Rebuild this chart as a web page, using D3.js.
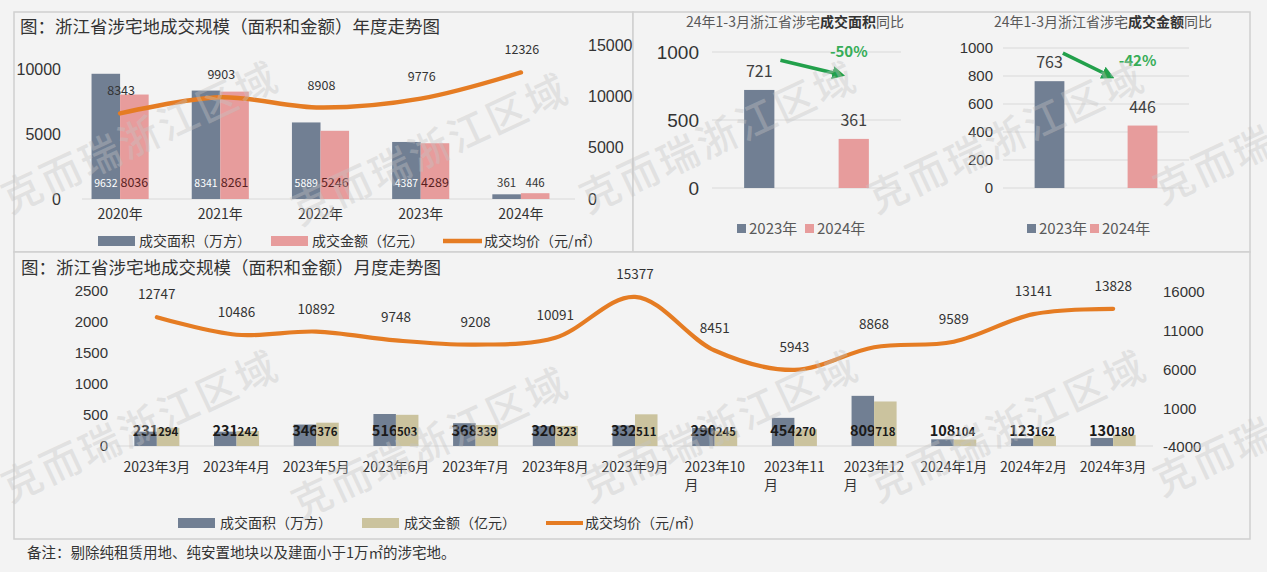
<!DOCTYPE html>
<html><head><meta charset="utf-8">
<script src="https://cdn.jsdelivr.net/npm/d3@7"></script>
<style>
body{margin:0;background:#f3f3f3;}
svg{display:block;font-family:"Noto Sans CJK SC","Noto Sans",sans-serif;}
</style>
</head><body>
<svg id="c" width="1267" height="572"></svg>
<script>
// ---------------- DATA ----------------
const years = ["2020年","2021年","2022年","2023年","2024年"];
const yearArea = [9632, 8341, 5889, 4387, 361];      // 成交面积（万方）
const yearAmount = [8036, 8261, 5246, 4289, 446];    // 成交金额（亿元）
const yearPrice = [8343, 9903, 8908, 9776, 12326];   // 成交均价（元/㎡）
const yearLeftTicks = [0, 5000, 10000];
const yearRightTicks = [0, 5000, 10000, 15000];

const q1Periods = ["2023年","2024年"];
const q1Area = [721, 361];
const q1Amount = [763, 446];
const q1AreaTicks = [0, 500, 1000];
const q1AmountTicks = [0, 200, 400, 600, 800, 1000];

const months = ["2023年3月","2023年4月","2023年5月","2023年6月","2023年7月","2023年8月","2023年9月",
  "2023年10月","2023年11月","2023年12月","2024年1月","2024年2月","2024年3月"];
const monthArea = [231, 231, 346, 516, 368, 320, 332, 290, 454, 809, 108, 123, 130];
const monthAmount = [294, 242, 376, 503, 339, 323, 511, 245, 270, 718, 104, 162, 180];
const monthPrice = [12747, 10486, 10892, 9748, 9208, 10091, 15377, 8451, 5943, 8868, 9589, 13141, 13828];
const monthLeftTicks = [0, 500, 1000, 1500, 2000, 2500];
const monthRightTicks = [-4000, 1000, 6000, 11000, 16000];

const legendYear = ["成交面积（万方）","成交金额（亿元）","成交均价（元/㎡）"];
const legendMonth = ["成交面积（万方）","成交金额（亿元）","成交均价（元/㎡）"];
const titleYear = "图：浙江省涉宅地成交规模（面积和金额）年度走势图";
const titleMonth = "图：浙江省涉宅地成交规模（面积和金额）月度走势图";
const note = "备注：剔除纯租赁用地、纯安置地块以及建面小于1万㎡的涉宅地。";
const watermark = "克而瑞浙江区域";

// ---------------- STYLE ----------------
const C = {
  bg: "#f3f3f3", border: "#cfcfcf", grid: "#d9d9d9", text: "#333333", sub: "#595959",
  slate: "#717f93", pink: "#e79c9c", beige: "#cbc39e", orange: "#e57c23", green: "#22a04b"
};
const NUM = '"Liberation Sans Narrow","Noto Sans CJK SC",sans-serif';
const fmt = d3.format("d");

const svg = d3.select("#c");
svg.append("rect").attr("width",1267).attr("height",572).attr("fill",C.bg);

// panels
const panels = [[14,12,619,240],[633,12,617,240],[14,252,1236,287]];
svg.selectAll("rect.panel").data(panels).join("rect").attr("class","panel")
  .attr("x",d=>d[0]).attr("y",d=>d[1]).attr("width",d=>d[2]).attr("height",d=>d[3])
  .attr("fill",C.bg).attr("stroke",C.border).attr("stroke-width",1.5);

svg.append("defs").append("marker").attr("id","arr").attr("viewBox","0 0 10 10")
  .attr("refX",6).attr("refY",5).attr("markerWidth",3.6).attr("markerHeight",3.6).attr("orient","auto")
  .append("path").attr("d","M0,0L10,5L0,10z").attr("fill",C.green);

function styleAxis(g, size){
  g.select(".domain").remove();
  g.selectAll("text").attr("font-size",size).attr("fill",C.text);
}

// ================= TOP-LEFT: yearly =================
{
  const g = svg.append("g");
  g.append("text").attr("x",20).attr("y",33).attr("font-size",17.5).attr("fill",C.text).text(titleYear);
  const x = d3.scaleBand().domain(years).range([70,571]).paddingInner(0.43).paddingOuter(0.215);
  const xs = d3.scaleBand().domain(["area","amount"]).range([0,x.bandwidth()]);
  const yL = d3.scaleLinear().domain([0,10000]).range([199,69]);
  const yR = d3.scaleLinear().domain([0,15000]).range([199,45]);

  g.append("line").attr("x1",82).attr("x2",575).attr("y1",yL(0)).attr("y2",yL(0)).attr("stroke",C.grid).attr("stroke-width",1.2);

  g.append("g").attr("transform","translate(61,0)")
    .call(d3.axisLeft(yL).tickValues(yearLeftTicks).tickSize(0).tickPadding(0).tickFormat(fmt))
    .call(a=>styleAxis(a,16));
  g.append("g").attr("transform","translate(588,0)")
    .call(d3.axisRight(yR).tickValues(yearRightTicks).tickSize(0).tickPadding(0).tickFormat(fmt))
    .call(a=>styleAxis(a,16));

  const rows = years.map((k,i)=>({k, area:yearArea[i], amount:yearAmount[i], price:yearPrice[i]}));
  const lblY = 187;
  rows.forEach(r=>{
    [["area",r.area,C.slate,"#ffffff",10.5],["amount",r.amount,C.pink,"#5a1f1f",12.5]].forEach(([s,v,fill,tc,fs])=>{
      const bx = x(r.k)+xs(s);
      g.append("rect").attr("x",bx).attr("y",yL(v)).attr("width",xs.bandwidth()).attr("height",yL(0)-yL(v)).attr("fill",fill);
      const inside = yL(v) < lblY-14;
      g.append("text").attr("x",bx+xs.bandwidth()/2).attr("y",lblY).attr("text-anchor","middle")
        .attr("font-size",inside?fs:11.5).attr("font-family",NUM).attr("fill",inside?tc:C.text).text(v);
    });
  });
  g.selectAll("text.cat").data(years).join("text").attr("class","cat")
    .attr("x",d=>x(d)+x.bandwidth()/2).attr("y",219).attr("text-anchor","middle")
    .attr("font-size",14).attr("fill",C.text).text(d=>d);

  const line = d3.line().x(d=>x(d.k)+x.bandwidth()/2).y(d=>yR(d.price)).curve(d3.curveCatmullRom.alpha(0.5));
  g.append("path").datum(rows).attr("d",line).attr("fill","none").attr("stroke",C.orange).attr("stroke-width",4.5).attr("stroke-linecap","round");
  g.selectAll("text.pl").data(rows).join("text").attr("class","pl")
    .attr("x",d=>x(d.k)+x.bandwidth()/2+1).attr("y",d=>yR(d.price)-18).attr("text-anchor","middle")
    .attr("font-size",12.5).attr("font-family",NUM).attr("fill",C.text).text(d=>d.price);

  // legend
  const ly = 241;
  g.append("rect").attr("x",98).attr("y",ly-5).attr("width",37).attr("height",10).attr("fill",C.slate);
  g.append("text").attr("x",139).attr("y",ly+5).attr("font-size",14).attr("fill",C.text).text(legendYear[0]);
  g.append("rect").attr("x",271).attr("y",ly-5).attr("width",37).attr("height",10).attr("fill",C.pink);
  g.append("text").attr("x",312).attr("y",ly+5).attr("font-size",14).attr("fill",C.text).text(legendYear[1]);
  g.append("line").attr("x1",443).attr("x2",482).attr("y1",ly).attr("y2",ly).attr("stroke",C.orange).attr("stroke-width",4.5);
  g.append("text").attr("x",484).attr("y",ly+5).attr("font-size",14).attr("fill",C.text).text(legendYear[2]);
}

// ================= TOP-RIGHT: Q1 comparisons =================
function q1Chart(cfg){
  const g = svg.append("g");
  const t = g.append("text").attr("x",cfg.titleX).attr("y",27).attr("text-anchor","middle").attr("font-size",14).attr("fill",C.sub);
  t.append("tspan").text("24年1-3月浙江省涉宅");
  t.append("tspan").attr("font-weight","bold").attr("fill",C.text).text(cfg.bold);
  t.append("tspan").text("同比");
  const x = d3.scaleBand().domain(q1Periods).range(cfg.xr).paddingInner(0.68).paddingOuter(0.34);
  const y = d3.scaleLinear().domain([0,1000]).range([188,cfg.top]);
  g.selectAll("line.gr").data(cfg.ticks).join("line").attr("class","gr")
    .attr("x1",cfg.xr[0]).attr("x2",cfg.xr[1]).attr("y1",d=>y(d)).attr("y2",d=>y(d))
    .attr("stroke",C.grid).attr("stroke-width",1);
  g.append("g").attr("transform",`translate(${cfg.axisX},0)`)
    .call(d3.axisLeft(y).tickValues(cfg.ticks).tickSize(0).tickPadding(0).tickFormat(fmt))
    .call(a=>styleAxis(a,cfg.fs));
  const rows = q1Periods.map((k,i)=>({k,v:cfg.values[i],c:i?C.pink:C.slate}));
  g.selectAll("rect.b").data(rows).join("rect").attr("class","b")
    .attr("x",d=>x(d.k)).attr("y",d=>y(d.v)).attr("width",x.bandwidth()).attr("height",d=>y(0)-y(d.v)).attr("fill",d=>d.c);
  g.selectAll("text.v").data(rows).join("text").attr("class","v")
    .attr("x",d=>x(d.k)+x.bandwidth()/2).attr("y",d=>y(d.v)-13).attr("text-anchor","middle")
    .attr("font-size",16).attr("fill","#404040").text(d=>d.v);
  const chg = (cfg.values[1]-cfg.values[0])/cfg.values[0];
  g.append("text").attr("x",x(q1Periods[1])+x.bandwidth()/2-5).attr("y",y(cfg.pctV)+5).attr("text-anchor","middle")
    .attr("font-size",15).attr("font-weight","bold").attr("fill","#36ad58").text(d3.format(".0%")(chg).replace("−","-"));
  g.append("line")
    .attr("x1",x(q1Periods[0])+x.bandwidth()*cfg.a0).attr("y1",y(cfg.av0))
    .attr("x2",x(q1Periods[1])+x.bandwidth()*cfg.a1).attr("y2",y(cfg.av1))
    .attr("stroke",C.green).attr("stroke-width",3.6).attr("marker-end","url(#arr)");
  // legend
  cfg.legend.forEach((lx,i)=>{
    g.append("rect").attr("x",lx).attr("y",224).attr("width",9).attr("height",9).attr("fill",i?C.pink:C.slate);
    g.append("text").attr("x",lx+12).attr("y",234).attr("font-size",15).attr("fill",C.sub).text(q1Periods[i]);
  });
}
q1Chart({titleX:795,bold:"成交面积",xr:[712,901],top:52,ticks:q1AreaTicks,axisX:699,fs:19,values:q1Area,
  pctV:1000,a0:1.2,av0:940,a1:0.05,av1:835,legend:[737,805]});
q1Chart({titleX:1103,bold:"成交金额",xr:[1003,1189],top:48,ticks:q1AmountTicks,axisX:993,fs:15,values:q1Amount,
  pctV:907,a0:0.95,av0:964,a1:-0.6,av1:800,legend:[1027,1090]});

// ================= BOTTOM: monthly =================
{
  const g = svg.append("g");
  g.append("text").attr("x",21).attr("y",274).attr("font-size",17.5).attr("fill",C.text).text(titleMonth);
  const x = d3.scaleBand().domain(months).range([117,1153]).paddingInner(0.435).paddingOuter(0.2175);
  const xs = d3.scaleBand().domain(["area","amount"]).range([0,x.bandwidth()]);
  const yL = d3.scaleLinear().domain([0,2500]).range([446,291]);
  const yR = d3.scaleLinear().domain([-4000,16000]).range([447,292]);

  g.append("line").attr("x1",117).attr("x2",1153).attr("y1",yL(0)).attr("y2",yL(0)).attr("stroke",C.grid).attr("stroke-width",1.2);
  g.append("g").attr("transform","translate(108,0)")
    .call(d3.axisLeft(yL).tickValues(monthLeftTicks).tickSize(0).tickPadding(0).tickFormat(fmt))
    .call(a=>styleAxis(a,15));
  g.append("g").attr("transform","translate(1163,0)")
    .call(d3.axisRight(yR).tickValues(monthRightTicks).tickSize(0).tickPadding(0).tickFormat(d=>String(d)))
    .call(a=>styleAxis(a,15));

  const rows = months.map((k,i)=>({k,area:monthArea[i],amount:monthAmount[i],price:monthPrice[i]}));
  rows.forEach(r=>{
    [["area",r.area,C.slate,14.5],["amount",r.amount,C.beige,11.5]].forEach(([s,v,fill,fs])=>{
      const bx = x(r.k)+xs(s);
      g.append("rect").attr("x",bx).attr("y",yL(v)).attr("width",xs.bandwidth()).attr("height",yL(0)-yL(v)).attr("fill",fill);
      g.append("text").attr("x",bx+xs.bandwidth()/2).attr("y",436).attr("text-anchor","middle")
        .attr("font-size",fs).attr("font-weight","bold").attr("fill","#1a1a1a").text(v);
    });
  });

  // category labels (wrap long ones like Excel)
  rows.forEach(r=>{
    const cx = x(r.k)+x.bandwidth()/2;
    if(r.k.length >= 8){
      const first = r.k.slice(0,-1);
      const t = g.append("text").attr("x",cx).attr("y",472).attr("text-anchor","middle").attr("font-size",14).attr("fill",C.text).text(first);
      const w = t.node().getComputedTextLength();
      g.append("text").attr("x",cx-w/2).attr("y",490).attr("font-size",14).attr("fill",C.text).text(r.k.slice(-1));
    } else {
      g.append("text").attr("x",cx).attr("y",472).attr("text-anchor","middle").attr("font-size",14).attr("fill",C.text).text(r.k);
    }
  });

  const line = d3.line().x(d=>x(d.k)+x.bandwidth()/2).y(d=>yR(d.price)).curve(d3.curveCatmullRom.alpha(0.5));
  g.append("path").datum(rows).attr("d",line).attr("fill","none").attr("stroke",C.orange).attr("stroke-width",4.2).attr("stroke-linecap","round");
  g.selectAll("text.pl").data(rows).join("text").attr("class","pl")
    .attr("x",d=>x(d.k)+x.bandwidth()/2).attr("y",d=>yR(d.price)-18).attr("text-anchor","middle")
    .attr("font-size",13.5).attr("fill",C.text).text(d=>d.price);

  const ly = 523;
  g.append("rect").attr("x",178).attr("y",ly-5).attr("width",37).attr("height",10).attr("fill",C.slate);
  g.append("text").attr("x",220).attr("y",ly+5).attr("font-size",14).attr("fill",C.text).text(legendMonth[0]);
  g.append("rect").attr("x",362).attr("y",ly-5).attr("width",37).attr("height",10).attr("fill",C.beige);
  g.append("text").attr("x",404).attr("y",ly+5).attr("font-size",14).attr("fill",C.text).text(legendMonth[1]);
  g.append("line").attr("x1",546).attr("x2",583).attr("y1",ly).attr("y2",ly).attr("stroke",C.orange).attr("stroke-width",4);
  g.append("text").attr("x",585).attr("y",ly+5).attr("font-size",14).attr("fill",C.text).text(legendMonth[2]);
}

// footnote
svg.append("text").attr("x",27).attr("y",558).attr("font-size",14.5).attr("fill",C.text).text(note);

// watermarks
const wmStarts = [[10,214],[300,226],[588,214],[876,214],[1162,205],[10,503],[300,520],[590,503],[878,503],[1162,497]];
svg.append("g").attr("pointer-events","none").selectAll("text").data(wmStarts).join("text")
  .attr("transform",d=>`translate(${d[0]},${d[1]}) rotate(-25)`)
  .attr("font-size",40).attr("letter-spacing",3).attr("font-weight",500)
  .attr("fill","#c4c4c4").attr("fill-opacity",0.38).text(watermark);
</script>
</body></html>
